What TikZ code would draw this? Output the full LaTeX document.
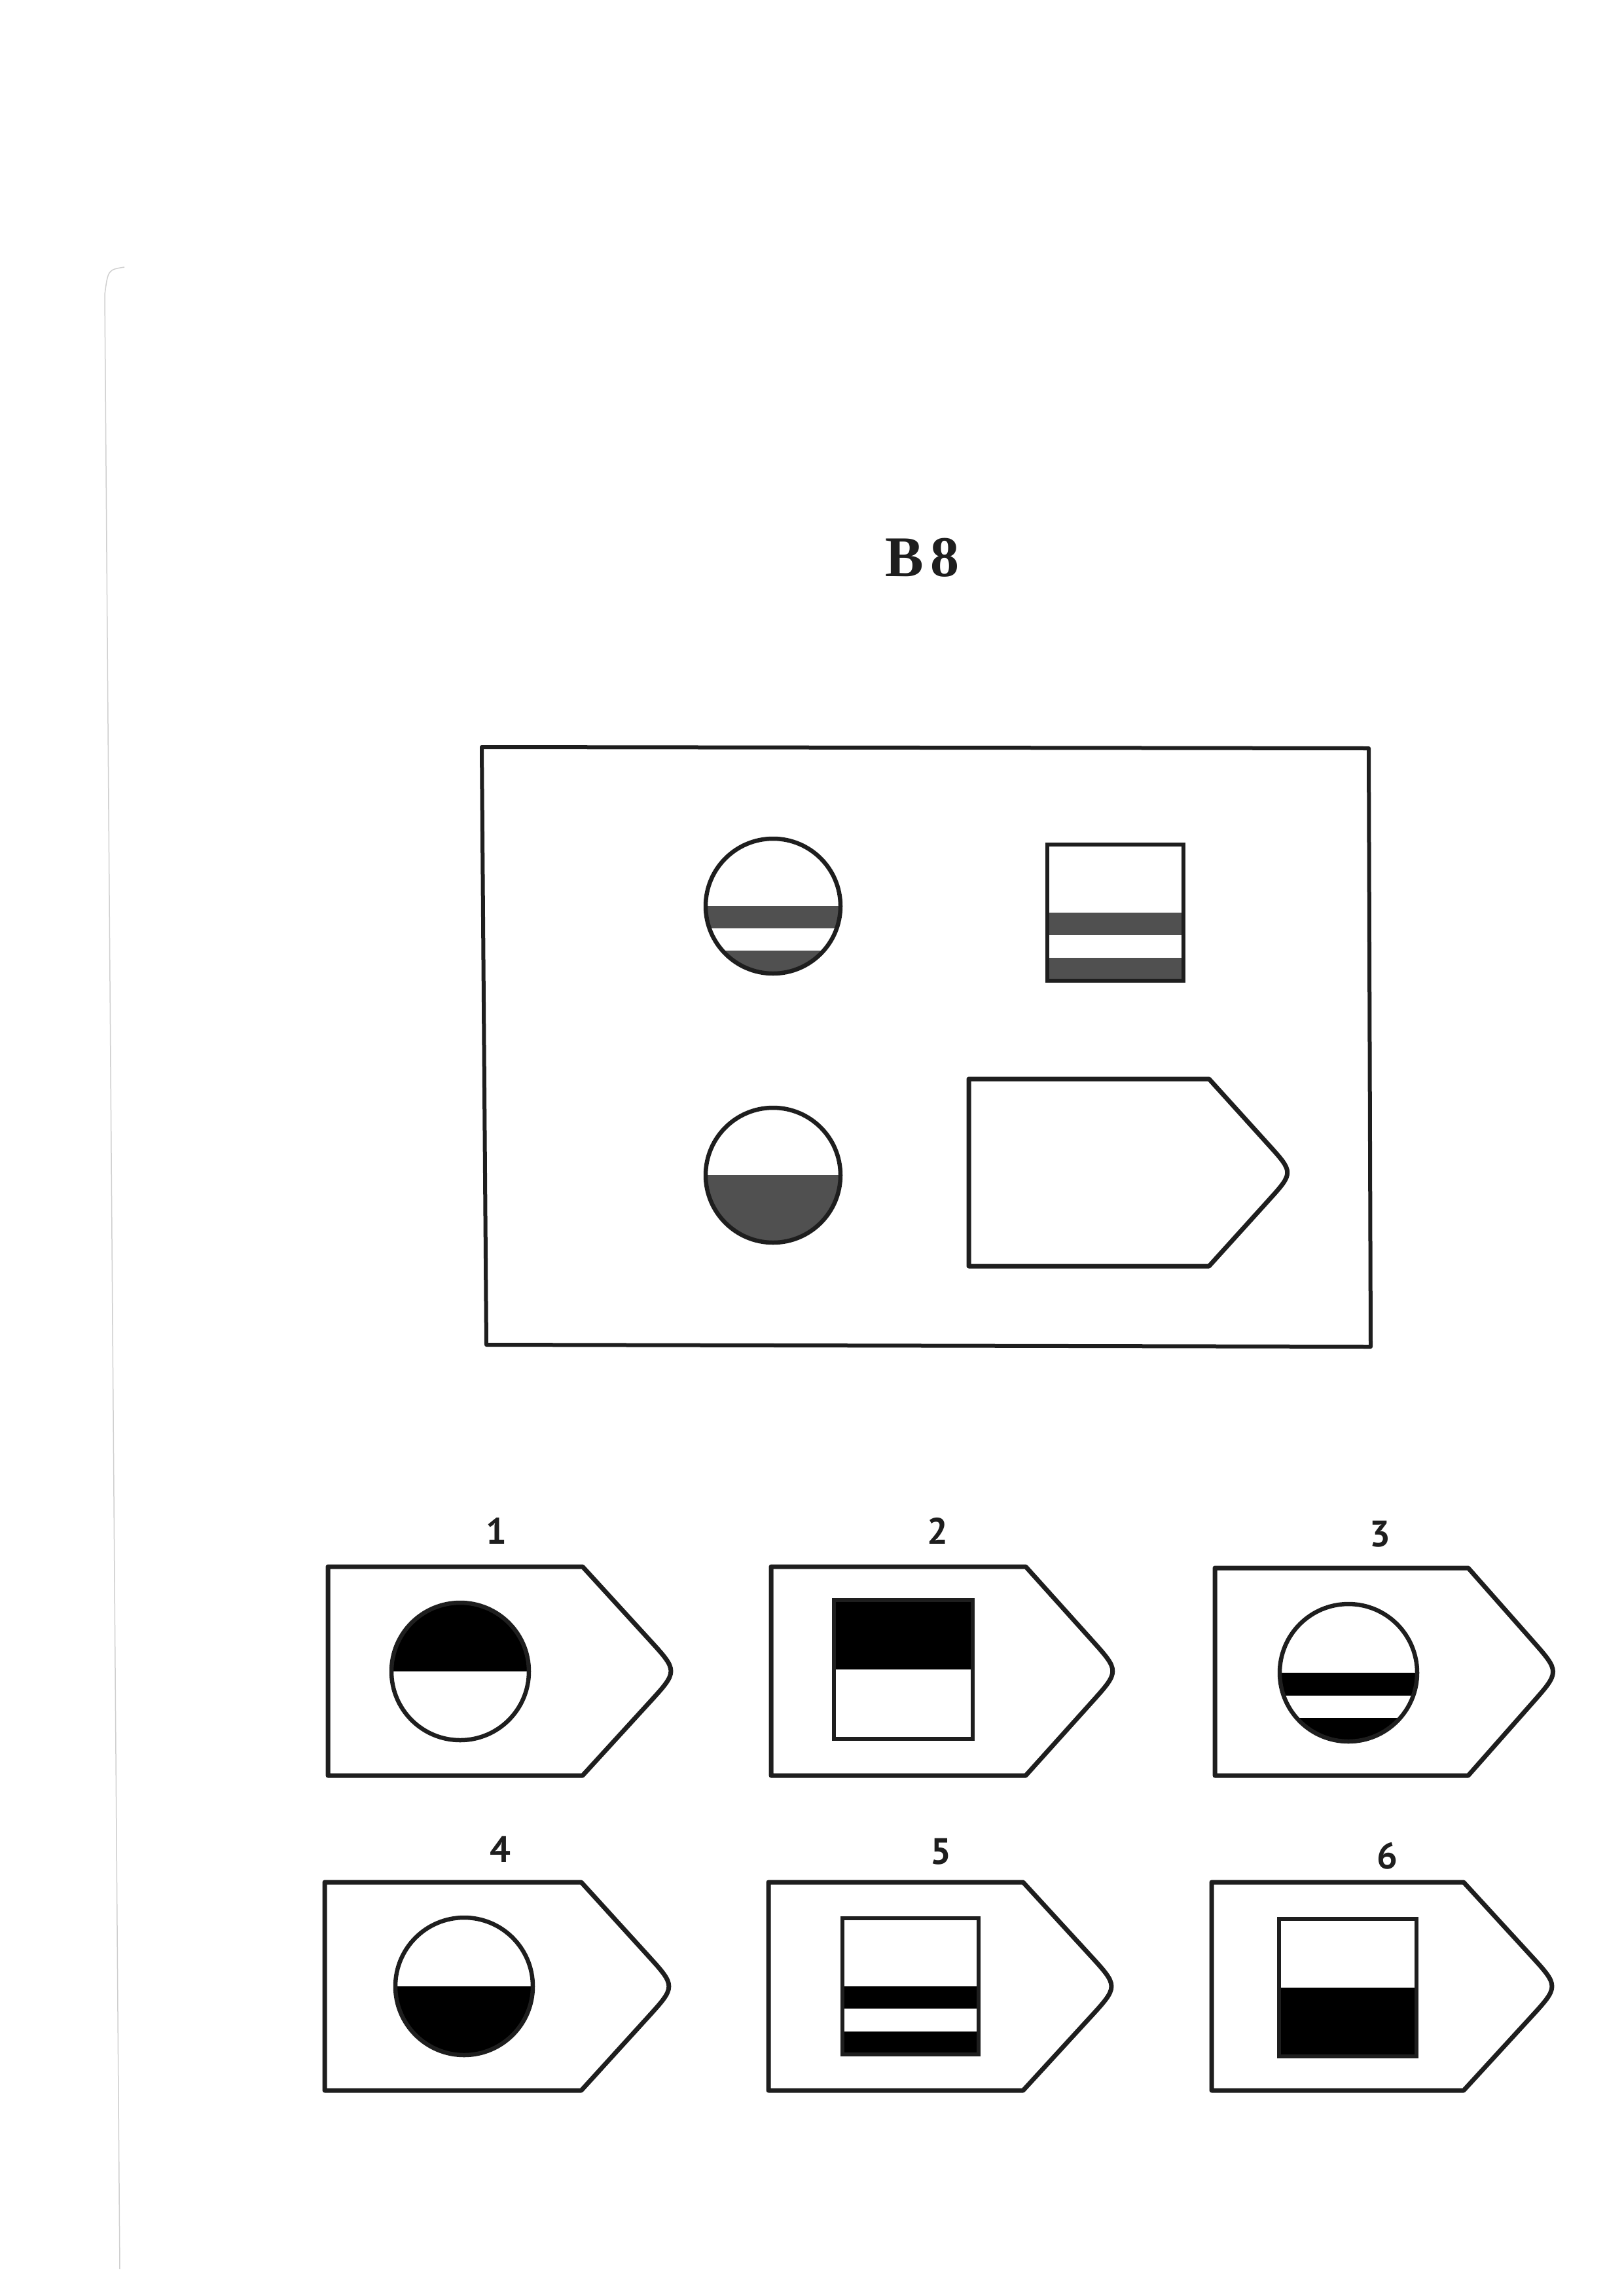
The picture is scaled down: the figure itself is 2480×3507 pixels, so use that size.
\documentclass[tikz,border=0pt]{standalone}
\usepackage{fontspec}
\usepackage{xcolor}
\usepackage{tikz}
\usetikzlibrary{calc}
\newfontfamily\titlefont{Liberation Serif}
\newfontfamily\digitfont{PT Sans}
\definecolor{ink}{HTML}{1E1E1E}
\definecolor{tone}{HTML}{505050}
\definecolor{solid}{HTML}{262626}
\definecolor{edge}{HTML}{CFCFCF}
\tikzset{
  frame/.style={draw=ink, line width=0.6mm, line join=round},
  fig/.style={draw=ink, line width=0.65mm},
  tag/.style={draw=ink, line width=0.7mm, line join=round},
  num/.style={text=ink, font=\digitfont\bfseries\fontsize{16}{16}\selectfont},
  ttl/.style={text=ink, font=\titlefont\bfseries\fontsize{25}{25}\selectfont},
  scan/.style={draw=edge, line width=0.15mm}
}
% fillings: centre, half size, colour
\newcommand{\Bands}[3]{%
  \fill[#3] ($(#1)+(-#2,0)$) rectangle ($(#1)+(#2,0.33*#2)$);
  \fill[#3] ($(#1)+(-#2,0.66*#2)$) rectangle ($(#1)+(#2,#2)$);
}
\newcommand{\UpperHalf}[3]{\fill[#3] ($(#1)+(-#2,-#2)$) rectangle ($(#1)+(#2,0)$);}
\newcommand{\LowerHalf}[3]{\fill[#3] ($(#1)+(-#2,0)$) rectangle ($(#1)+(#2,#2)$);}
% circle and square: centre, size, colour, filling
\newcommand{\Disc}[4]{%
  \begin{scope}
    \clip (#1) circle[radius=#2];
    #4{#1}{#2}{#3}
  \end{scope}
  \draw[fig] (#1) circle[radius=#2];
}
\newcommand{\SqFig}[4]{%
  #4{#1}{#2}{#3}
  \draw[fig] ($(#1)+(-#2,-#2)$) rectangle ($(#1)+(#2,#2)$);
}
% pointed card: name, left, top, corner, nose, bottom
\newcommand{\Tag}[6]{%
  \coordinate (#1nw) at (#2,#3);
  \coordinate (#1ne) at (#4,#3);
  \coordinate (#1tip) at ({#4+(#5-#4-6)/0.85},{(#3+#6)/2});
  \coordinate (#1se) at (#4,#6);
  \coordinate (#1sw) at (#2,#6);
  \draw[tag] (#1nw) -- (#1ne) -- ($(#1ne)!0.7!(#1tip)$)
    .. controls (#1tip) .. ($(#1se)!0.7!(#1tip)$)
    -- (#1se) -- (#1sw) -- cycle;
}
\begin{document}
\begin{tikzpicture}[x=0.1mm, y=-0.1mm]
  \useasboundingbox (0,0) rectangle (2480,3507);

  % page edge of the scan
  \draw[scan] (190,408) .. controls (165,412) .. (160,450) -- (183,3466);

  \node[ttl] (title) at (1409,852) {B\kern0.12em8};

  % matrix
  \coordinate (mA) at (736,1141);
  \coordinate (mB) at (2091,1143);
  \coordinate (mC) at (2094,2057);
  \coordinate (mD) at (743,2054);
  \draw[frame] (mA) -- (mB) -- (mC) -- (mD) -- cycle;

  \coordinate (q1) at (1181,1384);
  \coordinate (q2) at (1704,1394);
  \coordinate (q3) at (1181,1795);
  \Disc{q1}{103}{tone}{\Bands}
  \SqFig{q2}{104}{tone}{\Bands}
  \Disc{q3}{103}{tone}{\LowerHalf}
  \Tag{q4}{1480}{1648}{1847}{1963}{1934}

  % answers
  \Tag{a1}{501}{2393}{890}{1020}{2712}
  \Tag{a2}{1178}{2393}{1567}{1695}{2712}
  \Tag{a3}{1856}{2395}{2243}{2368}{2712}
  \Tag{a4}{496}{2875}{888}{1017}{3193}
  \Tag{a5}{1174}{2875}{1563}{1693}{3193}
  \Tag{a6}{1851}{2875}{2236}{2366}{3193}

  \coordinate (s1) at (703,2553);
  \coordinate (s2) at (1380,2550);
  \coordinate (s3) at (2060,2555);
  \coordinate (s4) at (709,3034);
  \coordinate (s5) at (1391,3034);
  \coordinate (s6) at (2059,3036);
  \Disc{s1}{105}{solid}{\UpperHalf}
  \SqFig{s2}{106}{solid}{\UpperHalf}
  \Disc{s3}{105}{solid}{\Bands}
  \Disc{s4}{105}{solid}{\LowerHalf}
  \SqFig{s5}{104}{solid}{\Bands}
  \SqFig{s6}{105}{solid}{\LowerHalf}

  \node[num] (n1) at (758,2338) {1};
  \node[num] (n2) at (1432,2338) {2};
  \node[num] (n3) at (2108,2343) {3};
  \node[num] (n4) at (764,2825) {4};
  \node[num] (n5) at (1437,2828) {5};
  \node[num] (n6) at (2119,2835) {6};
\end{tikzpicture}
\end{document}
